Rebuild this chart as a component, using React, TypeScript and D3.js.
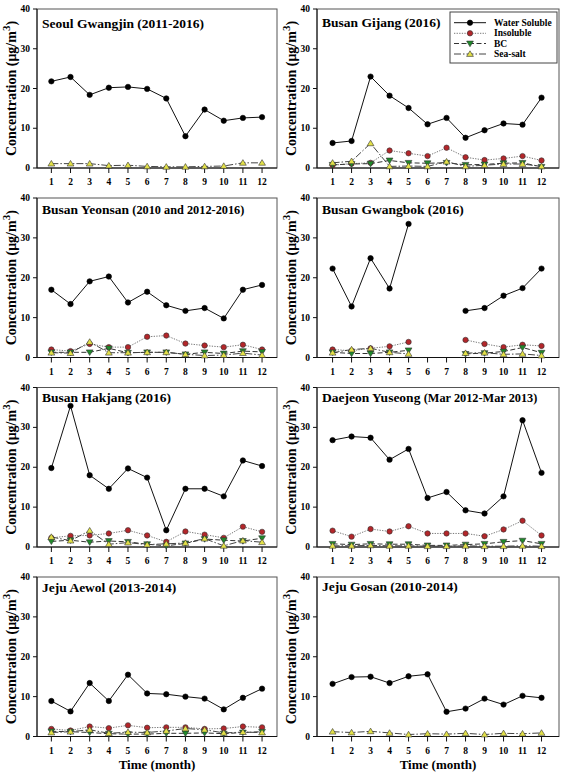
import React from "react";
import * as d3 from "d3";

const months = [1, 2, 3, 4, 5, 6, 7, 8, 9, 10, 11, 12];
const yTicks = [0, 10, 20, 30, 40];

type V = number | null;
const N = null;

// Seoul Gwangjin
const seoulWS: V[] = [21.8, 22.9, 18.4, 20.2, 20.4, 19.9, 17.5, 8.0, 14.7, 11.9, 12.6, 12.8];
const seoulSS: V[] = [1.1, 1.1, 1.1, 0.6, 0.7, 0.4, 0.3, 0.3, 0.4, 0.5, 1.3, 1.3];
// Busan Gijang
const gijangWS: V[] = [6.3, 6.8, 23.0, 18.2, 15.1, 11.0, 12.6, 7.6, 9.5, 11.2, 10.9, 17.7];
const gijangIN: V[] = [0.7, 1.1, 1.3, 4.4, 3.7, 3.0, 5.1, 2.7, 2.0, 2.4, 3.0, 1.9];
const gijangBC: V[] = [0.8, 1.0, 1.1, 1.9, 1.3, 1.2, 1.3, 0.8, 0.9, 1.2, 1.3, 0.3];
const gijangSS: V[] = [1.3, 1.7, 6.2, 0.4, 0.5, 0.4, 1.6, 0.4, 0.7, 1.0, 1.0, 0.4];
// Busan Yeonsan
const yeonsanWS: V[] = [17.0, 13.4, 19.1, 20.3, 13.8, 16.5, 13.1, 11.7, 12.4, 9.8, 17.0, 18.2];
const yeonsanIN: V[] = [2.0, 1.6, 3.4, 2.6, 2.6, 5.2, 5.5, 3.5, 3.0, 2.6, 3.2, 2.0];
const yeonsanBC: V[] = [1.3, 1.3, 1.3, 2.3, 1.2, 1.3, 1.3, 0.8, 1.3, 1.0, 1.6, 1.4];
const yeonsanSS: V[] = [1.2, 1.1, 3.9, 1.2, 1.2, 1.3, 1.3, 0.8, 0.5, 0.6, 1.1, 0.6];
// Busan Gwangbok
const gwangbokWS: V[] = [22.3, 12.8, 24.9, 17.3, 33.5, N, N, 11.7, 12.4, 15.5, 17.4, 22.3];
const gwangbokIN: V[] = [2.0, 1.7, 2.3, 2.8, 3.9, N, N, 4.4, 3.4, 2.6, 3.2, 2.9];
const gwangbokBC: V[] = [1.3, 1.0, 1.0, 1.3, 1.8, N, N, 0.9, 1.1, 1.5, 2.5, 1.2];
const gwangbokSS: V[] = [1.2, 2.0, 2.3, 1.3, 0.9, N, N, 1.1, 1.2, 0.8, 0.9, 0.5];
// Busan Hakjang
const hakjangWS: V[] = [19.8, 35.4, 18.0, 14.6, 19.7, 17.4, 4.2, 14.6, 14.6, 12.7, 21.7, 20.3];
const hakjangIN: V[] = [2.3, 2.8, 2.9, 3.4, 4.2, 2.9, 1.3, 3.9, 3.1, 2.3, 5.1, 3.8];
const hakjangBC: V[] = [1.4, 1.7, 1.2, 1.5, 1.3, 0.7, 0.3, 0.9, 2.0, 1.7, 1.5, 2.2];
const hakjangSS: V[] = [2.5, 1.6, 4.1, 0.7, 1.1, 0.6, 0.8, 1.0, 2.1, 0.3, 1.6, 1.2];
// Daejeon Yuseong
const yuseongWS: V[] = [26.8, 27.7, 27.4, 21.9, 24.6, 12.3, 13.8, 9.2, 8.4, 12.7, 31.8, 18.6];
const yuseongIN: V[] = [4.1, 2.6, 4.5, 3.9, 5.2, 3.4, 3.4, 3.4, 2.7, 4.4, 6.6, 2.9];
const yuseongBC: V[] = [0.8, 0.6, 0.8, 0.7, 0.7, 0.4, 0.4, 0.6, 0.8, 1.3, 1.6, 0.8];
const yuseongSS: V[] = [0.3, 0.3, 0.4, 0.3, 0.3, 0.2, 0.2, 0.3, 0.2, 0.2, 0.3, 0.2];
// Jeju Aewol
const aewolWS: V[] = [8.9, 6.3, 13.4, 8.9, 15.5, 10.8, 10.6, 10.0, 9.5, 6.8, 9.7, 12.0];
const aewolIN: V[] = [1.9, 1.5, 2.5, 2.1, 2.8, 2.2, 2.3, 2.3, 1.9, 2.0, 2.5, 2.3];
const aewolBC: V[] = [1.3, 1.2, 1.0, 0.7, 0.6, 0.6, 0.8, 0.8, 0.9, 0.7, 1.0, 1.2];
const aewolSS: V[] = [1.0, 1.2, 1.7, 0.8, 1.1, 1.0, 1.4, 2.0, 1.7, 0.9, 1.1, 1.0];
// Jeju Gosan
const gosanWS: V[] = [13.2, 14.9, 15.0, 13.4, 15.1, 15.6, 6.2, 7.0, 9.5, 8.0, 10.2, 9.7];
const gosanSS: V[] = [1.2, 1.0, 1.3, 0.9, 0.5, 0.7, 0.6, 0.8, 0.5, 0.8, 0.7, 0.9];

const seriesNames = ["Water Soluble", "Insoluble", "BC", "Sea-salt"];

const panelTitles: [string, string][] = [
  ["Seoul Gwangjin (2011-2016)", ""],
  ["Busan Gijang (2016)", ""],
  ["Busan Yeonsan ", "(2010 and 2012-2016)"],
  ["Busan Gwangbok (2016)", ""],
  ["Busan Hakjang (2016)", ""],
  ["Daejeon Yuseong ", "(Mar 2012-Mar 2013)"],
  ["Jeju Aewol (2013-2014)", ""],
  ["Jeju Gosan (2010-2014)", ""],
];

const panelData: (V[] | null)[][] = [
  [seoulWS, null, null, seoulSS],
  [gijangWS, gijangIN, gijangBC, gijangSS],
  [yeonsanWS, yeonsanIN, yeonsanBC, yeonsanSS],
  [gwangbokWS, gwangbokIN, gwangbokBC, gwangbokSS],
  [hakjangWS, hakjangIN, hakjangBC, hakjangSS],
  [yuseongWS, yuseongIN, yuseongBC, yuseongSS],
  [aewolWS, aewolIN, aewolBC, aewolSS],
  [gosanWS, null, null, gosanSS],
];

// layout
const colX: [number, number][] = [[37, 277], [317, 559]];
const colDomain: [number, number][] = [[0.25, 12.78], [0.18, 12.92]];
const rowY: [number, number][] = [[9, 168], [198, 357.5], [387.5, 547], [577, 736.5]];
const titleDy = [19, 18, 15.5, 15.5, 14, 14.5, 14.5, 14];

const FONT = "'Liberation Serif', 'Times New Roman', serif";

const styles = [
  { stroke: "#111", dash: "", fill: "#000", shape: "circle", lw: 1 },
  { stroke: "#777", dash: "1.3,1.3", fill: "#b3262a", shape: "circle", lw: 1 },
  { stroke: "#333", dash: "5,2.5", fill: "#1f8a2a", shape: "down", lw: 1 },
  { stroke: "#444", dash: "7,2,1.5,2", fill: "#e2e048", shape: "up", lw: 1 },
];

function Marker({ x, y, s }: { x: number; y: number; s: number }) {
  const st = styles[s];
  if (st.shape === "circle") {
    return <circle cx={x} cy={y} r={2.7} fill={st.fill} stroke={s === 0 ? "#000" : "#333"} strokeWidth={0.6} />;
  }
  const h = 3.2;
  const w = 3.4;
  const pts =
    st.shape === "up"
      ? `${x},${y - h} ${x - w},${y + h * 0.75} ${x + w},${y + h * 0.75}`
      : `${x},${y + h} ${x - w},${y - h * 0.75} ${x + w},${y - h * 0.75}`;
  return <polygon points={pts} fill={st.fill} stroke="#333" strokeWidth={0.6} />;
}

function Panel({ idx }: { idx: number }) {
  const col = idx % 2;
  const row = Math.floor(idx / 2);
  const [x0, x1] = colX[col];
  const [y0, y1] = rowY[row];
  const x = d3.scaleLinear().domain(colDomain[col]).range([x0, x1]);
  const y = d3.scaleLinear().domain([0, 40]).range([y1, y0]);
  const data = panelData[idx];
  const [t1, t2] = panelTitles[idx];
  const line = d3
    .line<V>()
    .defined((d) => d !== null)
    .x((_, i) => x(months[i]))
    .y((d) => y(d as number));
  const cy = (y0 + y1) / 2;
  const lx = x0 - 26;
  return (
    <g>
      {/* frame */}
      <rect x={x0} y={y0} width={x1 - x0} height={y1 - y0} fill="none" stroke="#555" strokeWidth={1} />
      <line x1={x0} x2={x0} y1={y0} y2={y1} stroke="#111" strokeWidth={1} />
      <line x1={x0} x2={x1} y1={y1} y2={y1} stroke="#111" strokeWidth={1} />
      {/* y ticks */}
      {yTicks.map((t) => (
        <g key={"y" + t}>
          <line x1={x0 - 4} x2={x0} y1={y(t)} y2={y(t)} stroke="#111" />
          <text x={x0 - 7} y={y(t) + 3} textAnchor="end" fontSize={9.5} fontWeight="bold" fontFamily={FONT}>
            {t}
          </text>
        </g>
      ))}
      {/* x ticks */}
      {months.map((m) => (
        <g key={"x" + m}>
          <line x1={x(m)} x2={x(m)} y1={y1} y2={y1 + 5} stroke="#111" />
          <text x={x(m)} y={y1 + 17} textAnchor="middle" fontSize={9.5} fontWeight="bold" fontFamily={FONT}>
            {m}
          </text>
        </g>
      ))}
      {/* y label */}
      <text
        transform={`translate(${lx},${cy}) rotate(-90)`}
        textAnchor="middle"
        fontSize={14}
        fontWeight="bold"
        fontFamily={FONT}
        dy={5}
      >
        Concentration (μg/m
        <tspan fontSize={11} dy={-6}>3</tspan>
        <tspan dy={6}>)</tspan>
      </text>
      {/* title */}
      <text x={x0 + 5} y={y0 + titleDy[idx]} fontSize={13.5} fontWeight="bold" fontFamily={FONT}>
        {t1}
        {t2 && <tspan fontSize={12.3}>{t2}</tspan>}
      </text>
      {/* series */}
      {data.map((vals, s) =>
        vals ? (
          <g key={"s" + s}>
            <path d={line(vals) || ""} fill="none" stroke={styles[s].stroke} strokeWidth={styles[s].lw} strokeDasharray={styles[s].dash} />
            {vals.map((v, i) => (v === null ? null : <Marker key={i} x={x(months[i])} y={y(v)} s={s} />))}
          </g>
        ) : null
      )}
      {row === 3 && (
        <text x={(x0 + x1) / 2} y={769} textAnchor="middle" fontSize={13} fontWeight="bold" fontFamily={FONT}>
          Time (month)
        </text>
      )}
    </g>
  );
}

function Legend() {
  const bx = 450, by = 12, bw = 107, bh = 51;
  const rowYs = [22.7, 33.3, 43.5, 54];
  return (
    <g>
      <rect x={bx} y={by} width={bw} height={bh} fill="#fff" stroke="#444" strokeWidth={1} />
      {seriesNames.map((n, s) => (
        <g key={n}>
          <line x1={454} x2={486} y1={rowYs[s]} y2={rowYs[s]} stroke={styles[s].stroke} strokeDasharray={styles[s].dash} />
          <Marker x={470} y={rowYs[s]} s={s} />
          <text x={494} y={rowYs[s] + 3} fontSize={9.5} fontWeight="bold" fontFamily={FONT}>
            {n}
          </text>
        </g>
      ))}
    </g>
  );
}

export default function App() {
  return (
    <svg width={564} height={772} style={{ position: "absolute", left: 0, top: 0, background: "#fff" }}>
      <rect x={0} y={0} width={564} height={772} fill="#fff" />
      {panelTitles.map((_, i) => (
        <Panel key={i} idx={i} />
      ))}
      <Legend />
    </svg>
  );
}
